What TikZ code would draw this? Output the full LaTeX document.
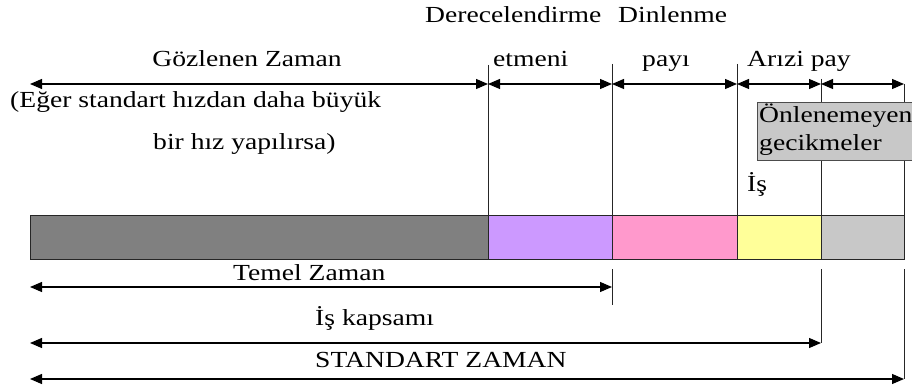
\documentclass[tikz,border=0pt]{standalone}
\usepackage{fontspec}
\setmainfont[FakeStretch=1.2]{Liberation Serif}
\usetikzlibrary{arrows.meta}
\definecolor{cdark}{HTML}{808080}
\definecolor{cpurple}{HTML}{CC99FF}
\definecolor{cpink}{HTML}{FF99CC}
\definecolor{cyellow}{HTML}{FFFF99}
\definecolor{clight}{HTML}{C8C8C8}
\tikzset{
  lbl/.style={inner sep=0pt, anchor=base west, font=\fontsize{23}{27}\selectfont},
  dim/.style={line width=1.1pt, {Triangle[length=12pt,width=10pt]}-{Triangle[length=12pt,width=10pt]}},
  tick/.style={line width=0.9pt, black!85},
  seg/.style={draw=black!85, line width=0.7pt},
}
\begin{document}
\begin{tikzpicture}[x=1pt,y=-1pt]
\useasboundingbox[fill=white] (0,0) rectangle (912,387);
% x positions of boundaries
\def\xa{30}\def\xb{488}\def\xc{612}\def\xd{737}\def\xe{821}\def\xf{904}
% bar
\filldraw[seg, fill=cdark] (\xa,215) rectangle (\xb,259);
\filldraw[seg, fill=cpurple] (\xb,215) rectangle (\xc,259);
\filldraw[seg, fill=cpink] (\xc,215) rectangle (\xd,259);
\filldraw[seg, fill=cyellow] (\xd,215) rectangle (\xe,259);
\filldraw[seg, fill=clight] (\xe,215) rectangle (\xf,259);
% top coordinates
\coordinate (t0) at (\xa,84);
\coordinate (t1) at (\xb,84);
\coordinate (t2) at (\xc,84);
\coordinate (t3) at (\xd,84);
\coordinate (t4) at (\xe,84);
\coordinate (t5) at (\xf,84);
% top vertical lines
\coordinate (v1a) at (\xb,65); \coordinate (v1b) at (\xb,215);
\coordinate (v2a) at (\xc,64); \coordinate (v2b) at (\xc,215);
\coordinate (v3a) at (\xd,64); \coordinate (v3b) at (\xd,215);
\coordinate (v4a) at (\xe,79); \coordinate (v4b) at (\xe,215);
\coordinate (v5a) at (\xf,84); \coordinate (v5b) at (\xf,215);
\draw[tick] (v1a) -- (v1b);
\draw[tick] (v2a) -- (v2b);
\draw[tick] (v3a) -- (v3b);
\draw[tick] (v4a) -- (v4b);
\draw[tick] (v5a) -- (v5b);
% top arrows
\draw[dim] (t0) -- (t1);
\draw[dim] (t1) -- (t2);
\draw[dim] (t2) -- (t3);
\draw[dim] (t3) -- (t4);
\draw[dim] (t4) -- (t5);
% box
\node[draw=black!70, line width=0.7pt, fill=clight, anchor=north west, minimum width=200pt, minimum height=58pt, inner sep=0pt] (box) at (757,102) {};
\node[lbl] (onl) at (759,123) {Önlenemeyen};
\node[lbl] (gec) at (759,151) {gecikmeler};
% top labels
\node[lbl] (der) at (425,23) {Derecelendirme};
\node[lbl] (din) at (618,23) {Dinlenme};
\node[lbl, anchor=base] (goz) at (247,67) {Gözlenen Zaman};
\node[lbl] (etm) at (493,67) {etmeni};
\node[lbl] (pay) at (642,67) {payı};
\node[lbl] (ari) at (747,67) {Arızi pay};
\node[lbl] (eger) at (10,108) {(Eğer standart hızdan daha büyük};
\node[lbl] (bir) at (153,150) {bir hız yapılırsa)};
\node[lbl] (is) at (747,192) {İş};
% bottom ticks
\coordinate (b2a) at (\xc,269); \coordinate (b2b) at (\xc,305);
\coordinate (b4a) at (\xe,269); \coordinate (b4b) at (\xe,343);
\coordinate (b5a) at (\xf,269); \coordinate (b5b) at (\xf,379);
\draw[tick] (b2a) -- (b2b);
\draw[tick] (b4a) -- (b4b);
\draw[tick] (b5a) -- (b5b);
% bottom arrows
\coordinate (r1) at (\xa,287); \coordinate (r1e) at (\xc,287);
\coordinate (r2) at (\xa,343); \coordinate (r2e) at (\xe,343);
\coordinate (r3) at (\xa,379); \coordinate (r3e) at (\xf,379);
\draw[dim] (r1) -- (r1e);
\draw[dim] (r2) -- (r2e);
\draw[dim] (r3) -- (r3e);
\node[lbl] (tem) at (233,280) {Temel Zaman};
\node[lbl] (kap) at (315,325) {İş kapsamı};
\node[lbl] (std) at (315,367) {STANDART ZAMAN};
\end{tikzpicture}
\end{document}
